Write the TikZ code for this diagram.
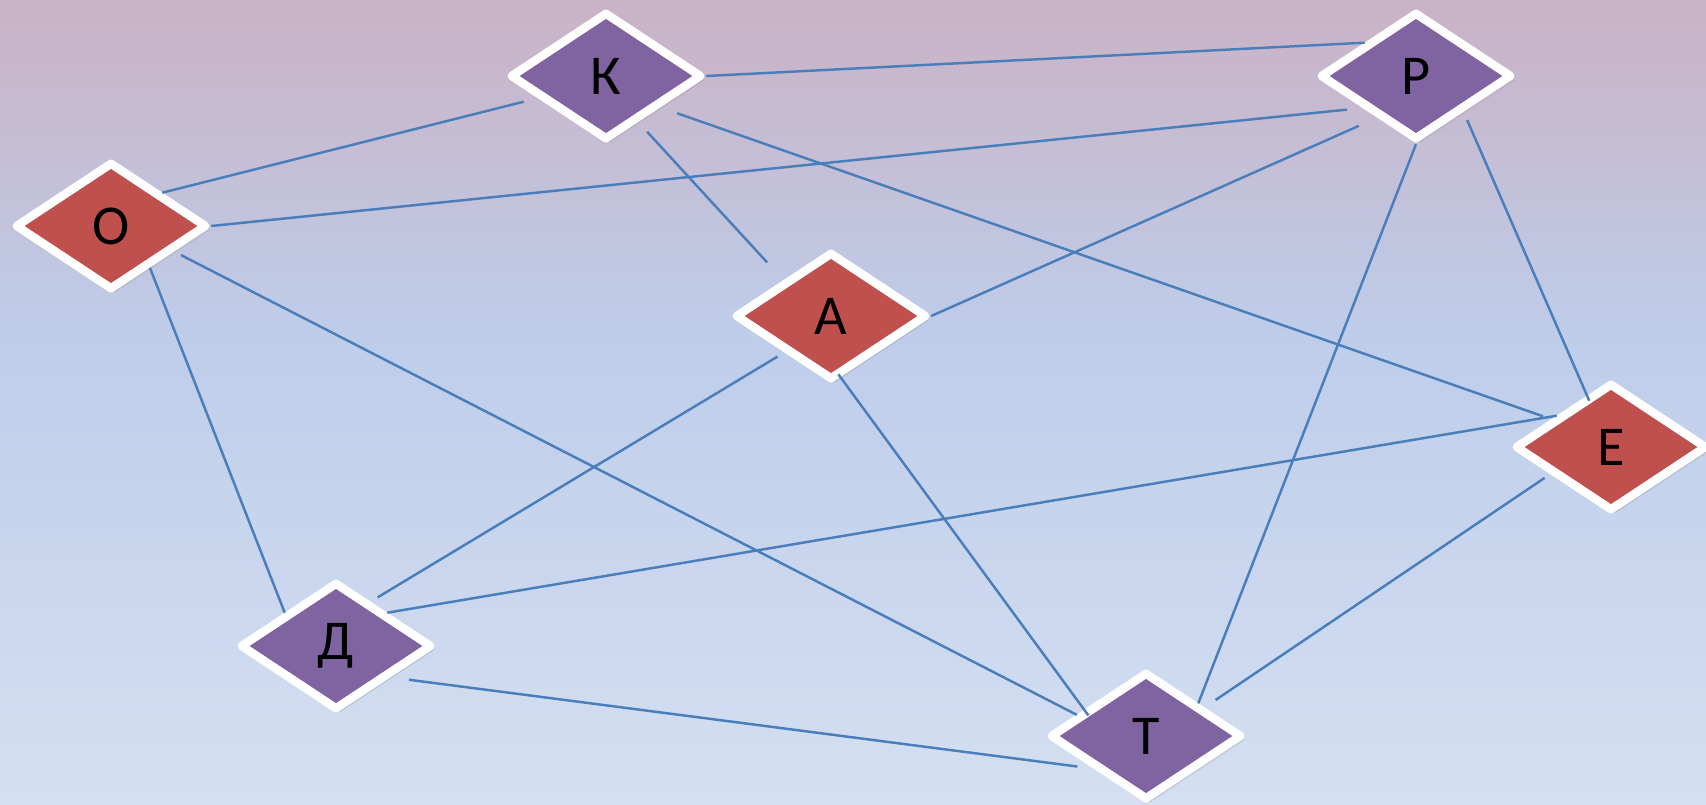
\documentclass[tikz,border=0pt]{standalone}
\usepackage{fontspec}
\setmainfont{Carlito}
\usetikzlibrary{shapes.geometric,shadows}
\definecolor{bgtop}{RGB}{202,178,197}
\definecolor{bgmid}{RGB}{190,205,234}
\definecolor{bgbot}{RGB}{212,223,241}
\definecolor{redfill}{RGB}{192,80,77}
\definecolor{purplefill}{RGB}{128,100,162}
\definecolor{linkblue}{RGB}{74,126,187}
\pgfdeclareverticalshading{bgfade}{100bp}{color(0bp)=(bgbot); color(25bp)=(bgbot); color(54bp)=(bgmid); color(75bp)=(bgtop); color(100bp)=(bgtop)}

\begin{document}
\begin{tikzpicture}[
		letter/.style={diamond, draw=white, line width=2.4pt, line join=round, minimum width=1.92cm, minimum height=1.28cm, inner sep=0pt, font=\fontsize{16}{19}\selectfont, drop shadow={shadow xshift=0.4mm, shadow yshift=-0.4mm, opacity=0.25}},
		redletter/.style={letter, fill=redfill},
		purpleletter/.style={letter, fill=purplefill},
		link/.style={linkblue, line width=0.7pt}]
			\useasboundingbox (0,0) rectangle (17.06,8.04);
			\shade[shading=bgfade] (0,0) rectangle (17.06,8.04);

			\node[purpleletter] (k) at (6.06, 7.28) {К};
			\node[purpleletter] (r) at (14.16, 7.28) {Р};
			\node[redletter] (o) at (1.11, 5.78) {О};
			\node[redletter] (a) at (8.31, 4.88) {А};
			\node[redletter] (e) at (16.11, 3.57) {Е};
			\node[purpleletter] (d) at (3.36, 1.58) {Д};
			\node[purpleletter] (t) at (11.46, 0.68) {Т};

			\draw[link]  (k.east) to (r.147);
			\draw[link, shorten <=1.5mm]  (k.198) to (o.33);
			\draw[link, shorten <=1.3mm, shorten >=2.4mm]  (k.305) to (a.143);
			\draw[link, shorten <=1.8mm, shorten >=0.9mm]  (k.330) to (e.155);
			\draw[link, shorten <=1.6mm]  (r.211) to (o.east);
			\draw[link, shorten <=2mm]  (r.227) to (a.east);
			\draw[link]  (r.south) to (t.32);
			\draw[link, shorten <=0.9mm, shorten >=-0.6mm]  (r.323) to (e.115);
			\draw[link, shorten <=0.8mm]  (o.338) to (t.163);
			\draw[link]  (o.313) to (d.147);
			\draw[link, shorten <=0.8mm, shorten >=0.8mm]  (a.218) to (d.52);
			\draw[link, shorten <=-0.4mm, shorten >=-0.7mm]  (a.279) to (t.157);
			\draw[link]  (e.150) to (d.33);
			\draw[link, shorten <=0.7mm, shorten >=1.35mm]  (e.204) to (t.26);
			\draw[link, shorten <=1.9mm, shorten >=1.65mm]  (d.330) to (t.212);
		\end{tikzpicture}
\end{document}
